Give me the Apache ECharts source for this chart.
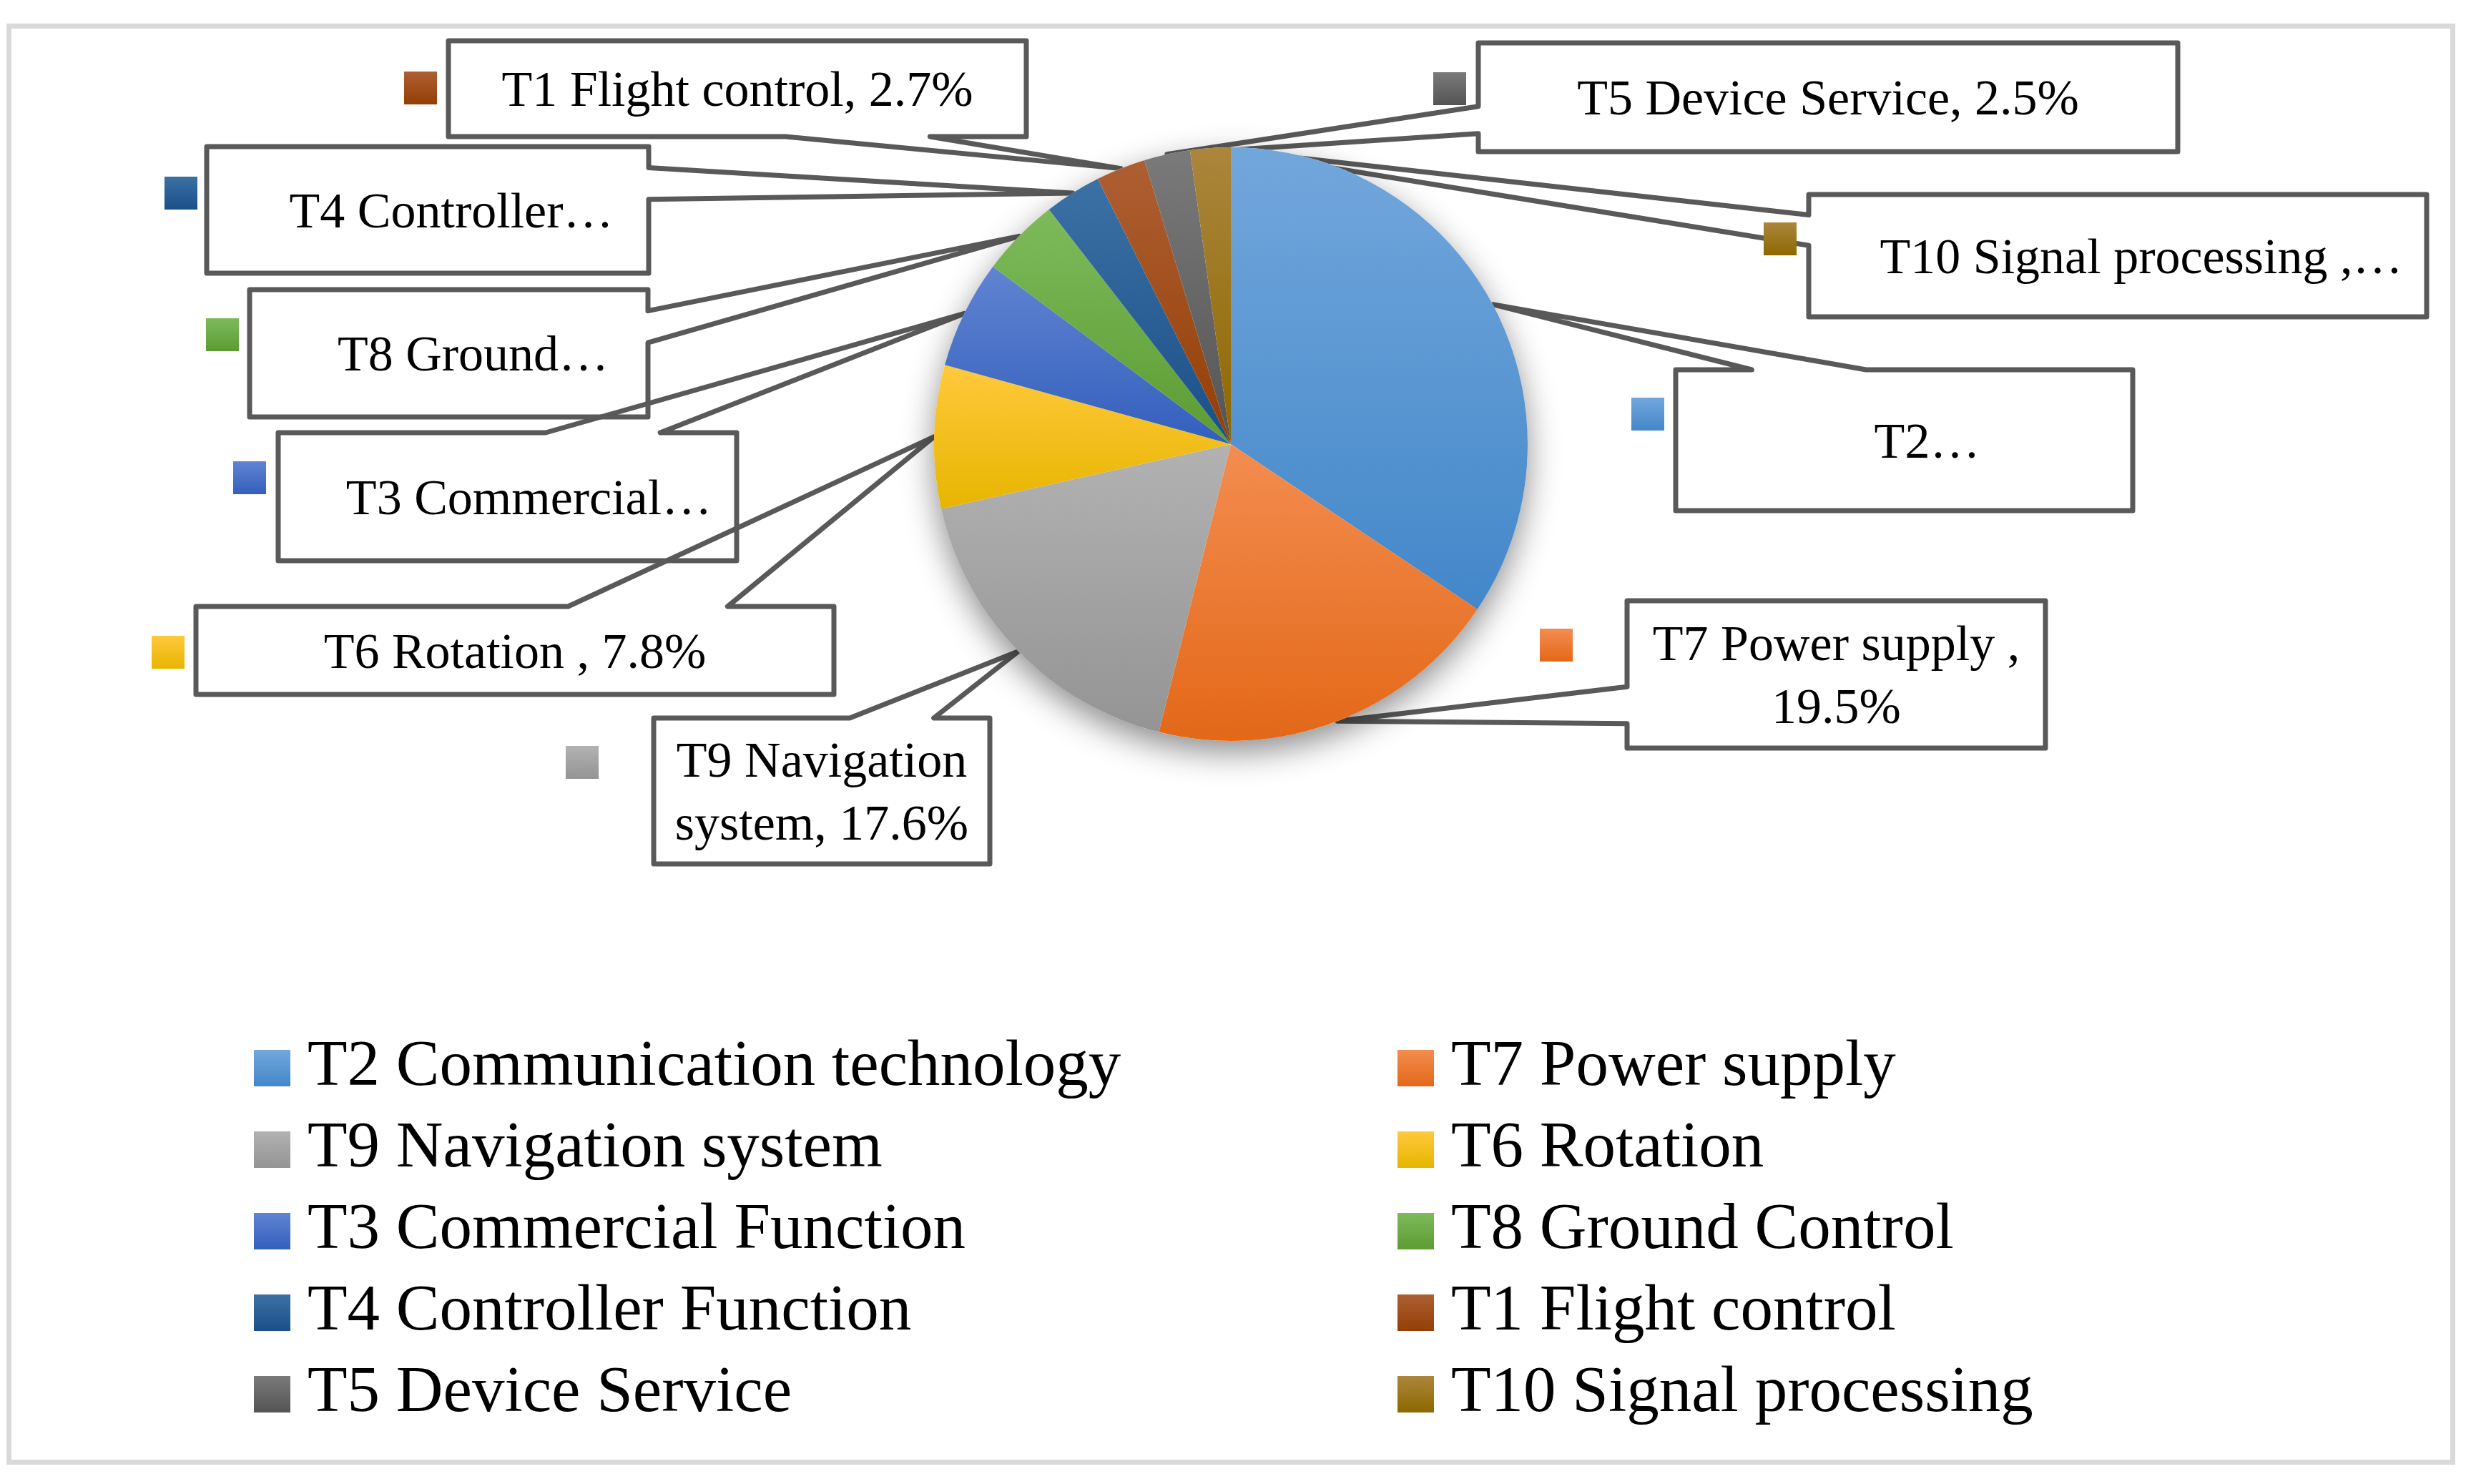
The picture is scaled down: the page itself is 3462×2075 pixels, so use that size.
<!DOCTYPE html>
<html>
<head>
<meta charset="utf-8">
<script src="https://cdn.jsdelivr.net/npm/echarts@6/dist/echarts.min.js"></script>
<style>
html,body{margin:0;padding:0;background:#fff;}
#chart{width:3462px;height:2075px;}
</style>
</head>
<body>
<div id="chart"></div>
<script>
// ---------------- data ----------------
const categories = [
  'T2 Communication technology',
  'T7 Power supply',
  'T9 Navigation system',
  'T6 Rotation',
  'T3 Commercial Function',
  'T8 Ground Control',
  'T4 Controller Function',
  'T1 Flight control',
  'T5 Device Service',
  'T10 Signal processing'
];
const shares = [34.4, 19.5, 17.6, 7.8, 5.9, 4.3, 3.1, 2.7, 2.5, 2.2];
const labelTexts = [
  'T2\u2026',
  'T7 Power supply ,\n19.5%',
  'T9 Navigation\nsystem, 17.6%',
  'T6 Rotation , 7.8%',
  'T3 Commercial\u2026',
  'T8 Ground\u2026',
  'T4 Controller\u2026',
  'T1 Flight control, 2.7%',
  'T5 Device Service, 2.5%',
  'T10 Signal processing ,\u2026'
];
const legendLeftNames = ['T2 Communication technology', 'T9 Navigation system', 'T3 Commercial Function', 'T4 Controller Function', 'T5 Device Service'];
const legendRightNames = ['T7 Power supply', 'T6 Rotation', 'T8 Ground Control', 'T1 Flight control', 'T10 Signal processing'];

// ---------------- styles ----------------
const colorsLight = ['#72A7DC', '#F38D50', '#B2B2B2', '#FFC93C', '#6084D2', '#7EBA5B', '#3C71A5', '#AE5F33', '#7A7A7A', '#AB863C'];
const colorsDark  = ['#4387C9', '#E36818', '#949494', '#E7B500', '#335FBC', '#5C9C32', '#1A5088', '#933E05', '#545454', '#8E6700'];

// ---------------- layout (pixels) ----------------
const chartCenter = [1721, 621];
const chartRadius = 415;
// callout boxes [left, top, width, height]
const calloutBoxes = [
  [2343, 517, 639, 197],
  [2275, 840, 585, 206],
  [914, 1004, 470, 204],
  [274, 848, 892, 123],
  [389, 605, 641, 179],
  [349, 405, 557, 178],
  [289, 205, 618, 177],
  [627, 57, 808, 134],
  [2067, 60, 978, 152],
  [2529, 272, 864, 171]
];
const calloutTextShift = [32, 0, 0, 0, 30, 34, 33, 0, 0, 33];
const calloutTextDrop = 6;
// legend keys beside callouts [left, top]
const keySquares = [
  [2281, 556], [2153, 879], [791, 1043], [212, 889], [326, 645],
  [288, 445], [230, 247], [565, 100], [2004, 101], [2466, 311]
];

function grad(i) {
  return {
    type: 'linear', x: 0, y: 0, x2: 0, y2: 1,
    colorStops: [{ offset: 0, color: colorsLight[i] }, { offset: 1, color: colorsDark[i] }]
  };
}

// wedge-rectangle callout outline (box + pointer toward tip)
function calloutOutline(box, tip) {
  const x = box[0], y = box[1], w = box[2], h = box[3];
  const tx = tip[0], ty = tip[1];
  const dxPos = tx - (x + w / 2), dyPos = ty - (y + h / 2);
  const horiz = Math.abs(dxPos * h) > Math.abs(dyPos * w);
  const g1 = v => (v > 0 ? 7 : 2), g2 = v => (v > 0 ? 10 : 5);
  const pts = [[x, y]];
  if (!horiz && dyPos < 0) pts.push([x + w * g1(dxPos) / 12, y], [tx, ty], [x + w * g2(dxPos) / 12, y]);
  pts.push([x + w, y]);
  if (horiz && dxPos > 0) pts.push([x + w, y + h * g1(dyPos) / 12], [tx, ty], [x + w, y + h * g2(dyPos) / 12]);
  pts.push([x + w, y + h]);
  if (!horiz && dyPos >= 0) pts.push([x + w * g2(dxPos) / 12, y + h], [tx, ty], [x + w * g1(dxPos) / 12, y + h]);
  pts.push([x, y + h]);
  if (horiz && dxPos <= 0) pts.push([x, y + h * g2(dyPos) / 12], [tx, ty], [x, y + h * g1(dyPos) / 12]);
  pts.push([x, y]);
  pts.push([x + Math.min(20, w / 8), y]);
  return pts;
}

const FONT = 'Liberation Serif';
const total = shares.reduce((a, b) => a + b, 0);

const chart = echarts.init(document.getElementById('chart'), null, { renderer: 'canvas' });

const legendCommon = {
  orient: 'vertical',
  top: 1448,
  height: 620,
  itemWidth: 51,
  itemHeight: 51,
  itemGap: 23,
  icon: 'rect',
  padding: 0,
  selectedMode: false,
  textStyle: { fontFamily: FONT, fontSize: 91, color: '#000', padding: [0, 0, 0, 19] }
};

chart.setOption({
  backgroundColor: '#fff',
  animation: false,
  graphic: [{
    type: 'rect', silent: true, z: -10,
    shape: { x: 12.5, y: 36.5, width: 3417, height: 2008 },
    style: { fill: 'none', stroke: '#D9D9D9', lineWidth: 7 }
  }],
  legend: [
    Object.assign({}, legendCommon, { data: legendLeftNames, left: 355 }),
    Object.assign({}, legendCommon, { data: legendRightNames, left: 1954 })
  ],
  series: [
    {
      // soft drop shadow under the pie
      type: 'pie', name: 'shadow', silent: true,
      center: chartCenter, radius: chartRadius,
      data: [{ name: '_shadow', value: total }],
      label: { show: false }, labelLine: { show: false },
      emphasis: { disabled: true },
      itemStyle: { color: '#ffffff', shadowBlur: 45, shadowOffsetY: 16, shadowColor: 'rgba(0,0,0,0.45)' }
    },
    {
      type: 'pie', name: 'share', silent: true,
      center: chartCenter, radius: chartRadius,
      startAngle: 90, clockwise: true,
      avoidLabelOverlap: false,
      emphasis: { disabled: true },
      data: categories.map((n, i) => ({ name: n, value: shares[i], itemStyle: { color: grad(i) } })),
      itemStyle: { borderWidth: 0 },
      label: {
        show: true, position: 'outside',
        formatter: p => labelTexts[p.dataIndex],
        fontFamily: FONT, fontSize: 70, lineHeight: 88, color: '#000'
      },
      labelLine: {
        show: true, length: 10, length2: 10, smooth: false,
        lineStyle: { color: '#595959', width: 7, join: 'round', cap: 'round' }
      },
      labelLayout: function (p) {
        const i = p.dataIndex;
        const b = calloutBoxes[i];
        const res = {
          x: b[0] + b[2] / 2 + calloutTextShift[i],
          y: b[1] + b[3] / 2 + calloutTextDrop,
          align: 'center', verticalAlign: 'middle'
        };
        if (p.labelLinePoints && p.labelLinePoints.length) {
          res.labelLinePoints = calloutOutline(b, p.labelLinePoints[0]);
        }
        return res;
      }
    },
    {
      // legend keys beside each callout
      type: 'pie', name: 'keys', silent: true,
      center: chartCenter, radius: chartRadius,
      startAngle: 90, clockwise: true,
      avoidLabelOverlap: false,
      emphasis: { disabled: true },
      itemStyle: { color: 'rgba(0,0,0,0)', borderWidth: 0 },
      data: categories.map((n, i) => ({
        name: n, value: shares[i],
        label: { rich: { sq: { width: 46, height: 46, backgroundColor: grad(i) } } }
      })),
      label: { show: true, opacity: 1, position: 'outside', formatter: '{sq|}', rich: { sq: { width: 46, height: 46 } } },
      labelLine: { show: false },
      labelLayout: function (p) {
        const k = keySquares[p.dataIndex];
        return { x: k[0], y: k[1], align: 'left', verticalAlign: 'top' };
      }
    }
  ]
});
</script>
</body>
</html>
